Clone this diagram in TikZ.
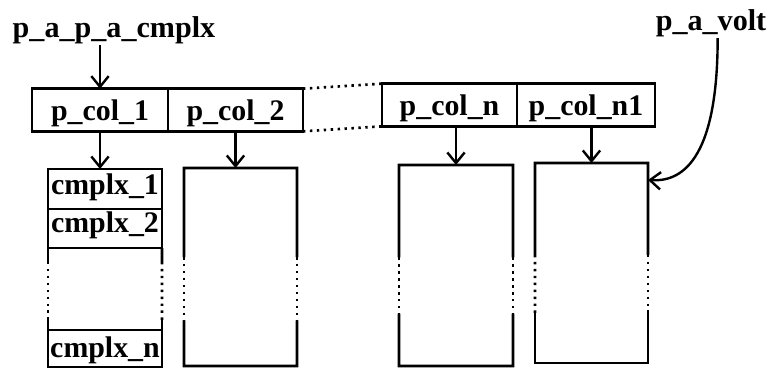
\documentclass[tikz,border=0pt]{standalone}
\usepackage{fontspec}
\setmainfont{Liberation Serif}
\usetikzlibrary{arrows.meta,calc}

% Column frame with dotted middle part of both sides
\newcommand\colframe[3]{%
  \draw[edge] ($(#1.north west)!#2!(#1.south west)$) -- (#1.north west)
    -- (#1.north east) -- ($(#1.north east)!#2!(#1.south east)$);
  \draw[edge] ($(#1.north west)!#3!(#1.south west)$) -- (#1.south west)
    -- (#1.south east) -- ($(#1.north east)!#3!(#1.south east)$);
  \draw[dots] ($(#1.north west)!#2!(#1.south west)$) -- ($(#1.north west)!#3!(#1.south west)$);
  \draw[dots] ($(#1.north east)!#2!(#1.south east)$) -- ($(#1.north east)!#3!(#1.south east)$);
}

\tikzset{
  edge/.style={line width=1.9pt, line join=miter},
  dots/.style={line width=2pt, dash pattern=on 1.8pt off 3.4pt},
  arr/.style={line width=1.8pt, -{Straight Barb[length=8pt, width=13pt, line width=1.8pt]}},
  cell/.style={draw, line width=1.9pt, inner sep=0pt, outer sep=0pt,
    minimum height=32pt, font=\fontsize{22.4}{27}\selectfont\bfseries,
    text height=15pt, text depth=7.5pt},
  ptr/.style={cell, text depth=0pt},
  frame/.style={inner sep=0pt, outer sep=0pt},
  lbl/.style={inner sep=1pt, anchor=base, font=\fontsize{22.6}{27}\selectfont\bfseries},
}

\begin{document}
\begin{tikzpicture}[x=0.75pt, y=-0.75pt]
\useasboundingbox (0,0) rectangle (772,369);

% labels of the two pointers
\node[lbl] (lblA) at (114,37) {p\_a\_p\_a\_cmplx};
\node[lbl] (lblV) at (711,30) {p\_a\_volt};

% row of column pointers
\node[ptr, minimum width=102pt]   (pc1)  at (100,110)   {p\_col\_1};
\node[ptr, minimum width=101.25pt](pc2)  at (235.5,110) {p\_col\_2};
\node[ptr, minimum width=101.25pt](pcn)  at (449.5,105) {p\_col\_n};
\node[ptr, minimum width=103.5pt] (pcn1) at (586,105)   {p\_col\_n1};
\draw[dots] (pc2.north east) -- (pcn.north west);
\draw[dots] (pc2.south east) -- (pcn.south west);

% first column with its elements
\node[cell, minimum width=85.5pt, minimum height=30pt]   (c1) at (105,189)   {cmplx\_1};
\node[cell, minimum width=85.5pt, minimum height=29.25pt, text depth=9pt](c2) at (105,228.5) {cmplx\_2};
\node[cell, minimum width=85.5pt, minimum height=27.75pt, text depth=1pt](cn) at (105,348.5) {cmplx\_n};
\draw[edge] (c2.south west) -- ($(c2.south west)!0.17!(cn.north west)$);
\draw[edge] (c2.south east) -- ($(c2.south east)!0.17!(cn.north east)$);
\draw[dots] ($(c2.south west)!0.17!(cn.north west)$) -- ($(c2.south west)!0.88!(cn.north west)$);
\draw[dots] ($(c2.south east)!0.17!(cn.north east)$) -- ($(c2.south east)!0.88!(cn.north east)$);
\draw[edge] ($(c2.south west)!0.88!(cn.north west)$) -- (cn.north west);
\draw[edge] ($(c2.south east)!0.88!(cn.north east)$) -- (cn.north east);

% remaining columns
\node[frame, minimum width=84.75pt, minimum height=148.5pt]  (col2) at (240.5,267)  {};
\node[frame, minimum width=85.5pt,  minimum height=150.75pt] (col3) at (456,265.5)  {};
\node[frame, minimum width=84.75pt, minimum height=150pt]    (col4) at (591.5,263)  {};
\colframe{col2}{0.45}{0.77}
\colframe{col3}{0.46}{0.74}
\colframe{col4}{0.46}{0.75}

% pointers
\draw[arr] (pc1.north |- lblA.south) -- (pc1.north);
\draw[arr] (pc1.south) -- (pc1.south |- c1.north);
\draw[arr] (pc2.south) -- (pc2.south |- col2.north);
\draw[arr] (col3.north |- pcn.south) -- (col3.north);
\draw[arr] (col4.north |- pcn1.south) -- (col4.north);
\draw[arr] ([xshift=5pt]lblV.south) .. controls +(0,125) and +(32,2)
  .. ($(col4.north east)+(0,17)$);
\end{tikzpicture}
\end{document}
